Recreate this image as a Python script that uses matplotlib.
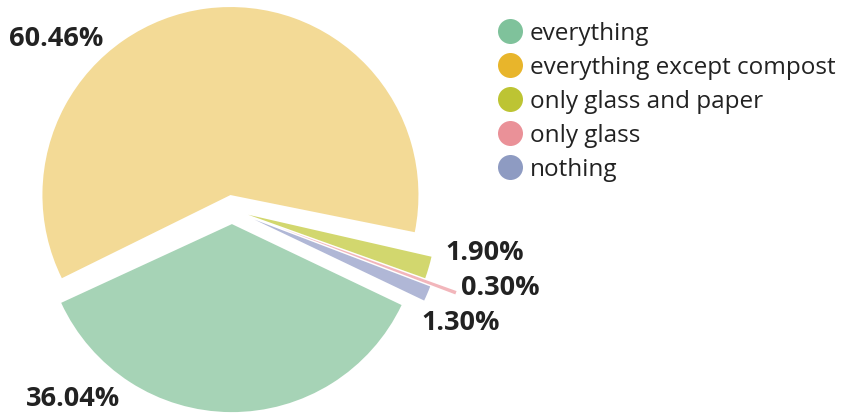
import matplotlib.pyplot as plt
from matplotlib.lines import Line2D

plt.rcParams['font.family'] = ['Open Sans', 'DejaVu Sans']

categories = ["everything", "everything except compost", "only glass and paper",
              "only glass", "nothing"]
shares = [36.04, 60.46, 1.90, 0.30, 1.30]
share_labels = ["36.04%", "60.46%", "1.90%", "0.30%", "1.30%"]

pie_colors = ['#a6d3b6', '#f3da96', '#d2d76e', '#f2b6bb', '#b0b7d6']
legend_colors = ['#7fc29b', '#e8b52b', '#bdc433', '#ea9198', '#8e9bc2']
explode = [0.075, 0.08, 0.09, 0.27, 0.13]   # fraction of radius

W, H = 847, 414
R = 188
fig = plt.figure(figsize=(W / 100, H / 100), dpi=100)
ax = fig.add_axes([0, 0, 1, 1])

# work in pixel units, y axis pointing down like the screen
wedges, _ = ax.pie(shares, colors=pie_colors, explode=[e * R for e in explode],
                   center=(232, 211), radius=R, startangle=-334.5, counterclock=True,
                   frame=True, wedgeprops={'linewidth': 0})
# the big slice sits a little rotated in the original, leaving wider gaps
wedges[1].set_theta1(wedges[1].theta1 - 1.5)
wedges[1].set_theta2(wedges[1].theta2 - 1.5)
ax.set_xlim(0, W)
ax.set_ylim(H, 0)
ax.set_aspect('equal')
ax.axis('off')

# value labels
label_pos = [(26, 399), (9, 39), (445, 253), (461, 288), (421, 323)]
for txt, (x, y) in zip(share_labels, label_pos):
    ax.text(x, y, txt, fontsize=19.5, fontweight='bold', color='#222222',
            ha='left', va='center')

handles = [Line2D([], [], marker='o', linestyle='', markersize=18,
                  markerfacecolor=c, markeredgewidth=0) for c in legend_colors]
fig.legend(handles, categories, loc='upper left', bbox_to_anchor=(486 / W, 1 - 10 / H),
           frameon=False, fontsize=17.5, handlelength=1.0, handletextpad=0.3,
           labelspacing=0.41, borderpad=0, labelcolor='#222222')

fig.savefig('out.png', dpi=100)
